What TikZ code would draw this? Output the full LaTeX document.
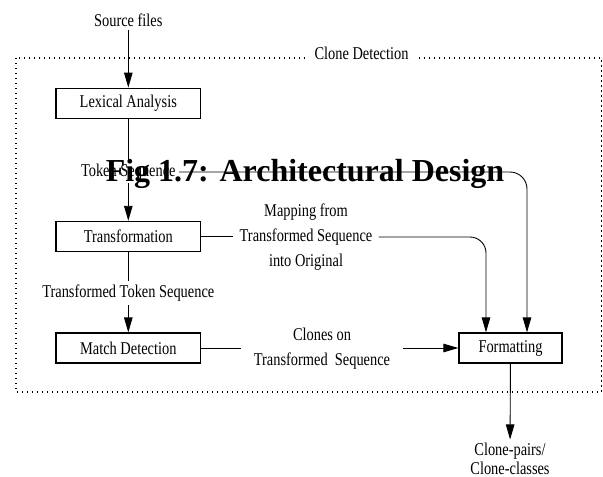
\documentclass[tikz,border=0pt]{standalone}
\usepackage{fontspec}
\setmainfont{Liberation Serif}
\newfontfamily\diagfont[FakeStretch=0.8]{Liberation Serif}
\usetikzlibrary{arrows.meta,calc}

\begin{document}
\begin{tikzpicture}[x=1pt,y=-1pt,
  every node/.style={font=\diagfont\fontsize{18}{25}\selectfont},
  stage/.style={draw, line width=1.2pt, minimum width=144.7pt, minimum height=30pt, inner sep=0pt},
  flow/.style={line width=0.9pt},
  arr/.style={flow, -{Triangle[length=15pt,width=8.5pt]}},
  lbl/.style={inner sep=4pt, align=center},
]
\useasboundingbox (0,0) rectangle (603,477);

% dotted frame of the clone detection stage
\draw[line width=1.3pt, dash pattern=on 1.3pt off 3.7pt] (16,58) rectangle (601.5,392);
\node[fill=white, inner xsep=10pt, inner ysep=2pt] (cd) at (361.5,53) {Clone Detection};

% processing stages
\node[inner ysep=3pt] (src) at (128.3,20) {Source files};
\node[stage] (lex) at (128.3,103.2) {Lexical Analysis};
\node[inner ysep=3pt] (tok) at (128.3,172) {Token Sequence};
\node[stage] (trn) at (128.3,236.4) {Transformation};
\node[inner ysep=4pt] (tts) at (128.3,293) {Transformed Token Sequence};
\node[stage] (mat) at (128.3,348) {Match Detection};
\node[stage, minimum width=103pt] (fmt) at (510.5,348) {Formatting};

% edge labels
\node[lbl, inner xsep=6pt] (map) at (306,237) {Mapping from\\Transformed Sequence\\into Original};
\node[lbl, inner xsep=13pt] (cln) at (322,349) {Clones on\\Transformed\ \ Sequence};
\node[lbl, inner ysep=0pt] (out) at (510,458.5) {Clone-pairs/\\[-6pt]Clone-classes};

% main pipeline
\draw[arr] (src) -- (lex);
\draw[flow] (lex) -- (tok);
\draw[arr] (tok) -- (trn);
\draw[flow] (trn) -- (tts);
\draw[arr] (tts) -- (mat);

% side channels into formatting
\draw[flow] (trn.east) -- (trn.east -| map.west);
\draw[flow] (mat.east) -- (mat.east -| cln.west);
\draw[arr] (cln.east |- fmt.west) -- (fmt.west);
\draw[arr, rounded corners=16pt] (map.east) -| ($(fmt.north)+(-24.5,0)$);
\draw[arr, rounded corners=17pt] (tok.east) -| ($(fmt.north)+(16.5,0)$);
\draw[arr, shorten >=3pt] (fmt) -- (out);

% caption
\node[font=\bfseries\fontsize{32}{36}\selectfont, anchor=base, inner sep=0pt] (cap) at (305,181) {Fig 1.7: Architectural Design};
\end{tikzpicture}
\end{document}
